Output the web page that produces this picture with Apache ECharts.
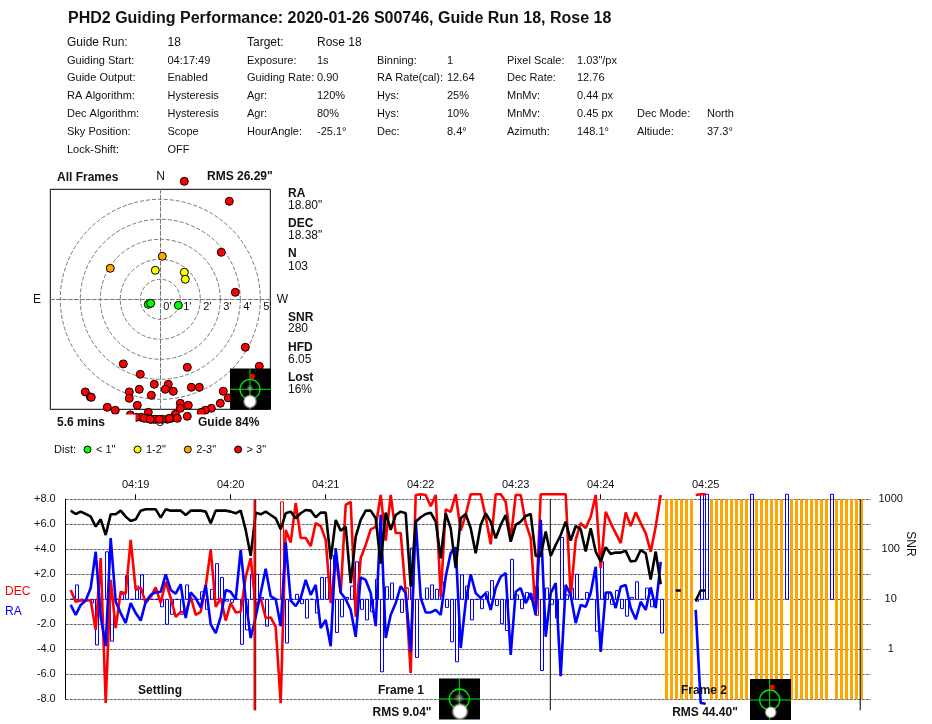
<!DOCTYPE html>
<html>
<head>
<meta charset="utf-8">
<title>PHD2 Guiding Performance</title>
<script src="https://cdn.jsdelivr.net/npm/echarts@6/dist/echarts.min.js"></script>
<style>
html,body{margin:0;padding:0;background:#fff}
#main{width:932px;height:724px}
</style>
</head>
<body>
<div id="main"></div>
<script>
var titleText = 'PHD2 Guiding Performance: 2020-01-26 S00746, Guide Run 18, Rose 18';

// header table, one list per column
var infoLabels1 = ['Guide Run:','Guiding Start:','Guide Output:','RA Algorithm:','Dec Algorithm:','Sky Position:','Lock-Shift:'];
var infoValues1 = ['18','04:17:49','Enabled','Hysteresis','Hysteresis','Scope','OFF'];
var infoLabels2 = ['Target:','Exposure:','Guiding Rate:','Agr:','Agr:','HourAngle:',''];
var infoValues2 = ['Rose 18','1s','0.90','120%','80%','-25.1°',''];
var infoLabels3 = ['','Binning:','RA Rate(cal):','Hys:','Hys:','Dec:',''];
var infoValues3 = ['','1','12.64','25%','10%','8.4°',''];
var infoLabels4 = ['','Pixel Scale:','Dec Rate:','MnMv:','MnMv:','Azimuth:',''];
var infoValues4 = ['','1.03"/px','12.76','0.44 px','0.45 px','148.1°',''];
var infoLabels5 = ['','','','','Dec Mode:','Altiude:',''];
var infoValues5 = ['','','','','North','37.3°',''];

// target plot, offsets in arc minutes [east-west, north-south]
var greenPoints = [[-0.6,-0.25],[-0.48,-0.2],[0.9,-0.3]];
var yellowPoints = [[-0.25,1.45],[1.2,1.35],[1.25,1.0]];
var orangePoints = [[0.1,2.15],[-2.5,1.55]];
var redPoints = [[1.2,5.9],[3.45,4.9],[3.05,2.35],[3.75,0.35],[4.25,-2.4],[4.95,-3.35],[-1.85,-3.23],[-1.0,-3.75],
  [1.35,-3.4],[-0.3,-4.25],[0.4,-4.25],[0.25,-4.5],[0.65,-4.6],[1.55,-4.4],[1.95,-4.4],[-1.05,-4.5],[-1.55,-4.63],
  [-3.75,-4.63],[-3.5,-4.88],[-3.45,-4.9],[-1.55,-4.95],[-0.45,-4.8],[3.15,-4.6],[3.4,-4.93],[3.0,-5.2],[2.55,-5.45],
  [2.25,-5.55],[2.05,-5.65],[1.0,-5.2],[1.0,-5.45],[1.4,-5.3],[-1.15,-5.3],[-2.65,-5.4],[-2.25,-5.55],[-0.6,-5.65],
  [-1.5,-5.78],[1.35,-5.85],[0.75,-5.75],[0.55,-5.95],[0.85,-5.95],[0.35,-6.0],[0.1,-6.0],[-0.2,-6.0],[-0.45,-6.0],
  [-0.65,-5.95],[-0.95,-5.9],[-1.2,-5.9],[-0.8,-5.95],[-0.3,-6.0],[-0.05,-6.0],[0.45,-5.95],[-0.5,-6.0]];
var ringMax = 5;

// stats beside the target plot
var statNames = ['RA','DEC','N','SNR','HFD','Lost'];
var statValues = ['18.80"','18.38"','103','280','6.05','16%'];

// time series: one entry per guide frame, index is the frame number
var decErr = [null,0.75,-0.2,-0.1,-0.1,-0.1,-2.45,3.3,-8.3,1.55,-2.3,0.6,0.45,4.75,0.75,0.95,-0.3,0.2,0.95,-0.3,1.4,0.1,-1.4,-1,-1.1,0.2,-1.25,-1,1,4,-0.6,0.1,-1.7,-0.3,-1.05,-1,1.8,3.3,
  -0.6,0.1,-1.5,-1.45,-2.2,-8.3,5.55,4.55,7.7,4.9,4.9,4.25,6.1,5.85,4.75,-0.3,3.4,0.5,7.55,7.8,-1.4,3.3,4.35,5.6,5.8,8.35,4.7,8.35,5.3,5.3,0.5,-5.9,8.35,8.4,8.35,7.45,8.35,0.2,7.2,7,8.4,5.5,6.75,8.4,8.4,8.4,6.6,4.4,8.4,8.4,7.8,4.75,8.35,8.35,6.1,4.9,-1.25,8.4,8.4,8.4,8.4,8.4,8.4,0.2,4.75,6.1,5.7,6.6,8.35,2.5,7,6.1,5.3,4.5,6.95,5.85,6.95,6.1,5.3,3.8,5.8,8.35,
  null,null,null,null,null,null,8.35,8.4,8.4];
var raErr = [null,-0.45,-1.25,-0.45,-0.1,0.9,3.8,-1.4,-3.75,4.9,-0.2,-1.1,-1.9,-0.3,-1.1,-1.7,-0.2,0.35,0.55,0.6,2,0.75,0.45,1.2,-1.5,0.55,0.1,-0.65,1.15,-2,-2.7,-1.4,0.75,0.6,0,3.95,-0.05,-3.1,
  -1.4,0.5,2.45,0.25,0,-2.15,4.55,-0.1,-0.55,0.1,1.55,0.35,1.15,-2.3,-1.65,-3.75,4.1,0.55,0,-0.85,-3,1.75,1.55,0.5,-2.15,6.75,-3.1,-1.25,-0.3,1.05,0.5,-4.2,6.35,0.1,-1.05,-1.05,-0.85,-1.25,1.8,3.7,4.15,-3.9,-0.2,2,0.5,0.1,0.5,-0.85,0.9,1.8,2.1,-4.45,0.6,0.9,-0.3,0.5,-1.25,6.35,-3,0.5,1.3,-6.15,1.15,0.35,-1.9,-0.45,-0.6,0.5,2.6,-4.2,0.55,0.55,-0.7,1,1.15,-0.7,-1.6,-0.2,-0.85,0.95,-0.7,3,
  null,null,null,null,null,null,-0.85,-8.3,-8.35];
var snr = [null,593,509,567,509,450,284,398,193,501,501,593,450,369,398,593,631,631,631,430,631,593,593,593,486,593,593,593,567,331,593,593,593,567,525,593,244,74,
  541,501,567,486,417,251,525,567,417,525,612,593,437,541,541,63,386,236,284,21,179,386,593,593,417,52,541,244,486,567,525,18,357,437,509,541,357,66,525,263,42,417,509,263,83,307,525,357,166,307,486,142,307,357,464,509,74,74,226,74,122,193,357,149,293,251,90,263,90,57,110,81,86,86,93,57,59,97,83,25,90,20,
  null,null,15,15,null,null,9.4,15,15];
// correction pulses, drawn as hollow bars
var raPulse = [null,0,1.15,0,0,-0.3,-3.65,0,3.8,-3.35,0,0.4,1.9,0,1.05,1.95,0,0,0,-0.6,-2,-1.2,0,-1.2,1.15,0,0,0.6,-0.8,0.8,2.85,1.75,-0.15,-0.25,0,-3.6,-2.45,2,
  2,0.15,-2.15,0,0,2,-3.5,0,0.4,-0.35,-1.5,0,-1.1,1.75,1.75,3.5,-2.65,-1.4,0.15,1.05,3,-0.8,-1.65,-1,1.6,-5.8,1,1.3,0,-1.05,0.9,4.1,-4.65,0,0.9,1.15,0.8,1.4,-0.65,-3.4,-5,1.95,1.05,-1.65,0,-0.75,0.6,1.5,-0.5,-1.95,-2.5,3.2,0.35,-0.75,0.55,0.4,1,-5.7,0.9,-0.4,-1.5,4.95,0.35,0.9,2,0,0.55,0,-2.55,3,0.55,-0.4,0.7,-0.75,-1.35,0.15,1.4,0,0.9,-0.6,0,-2.7,
  null,null,null,null,null,null,-0.15,8.4,8.4,null,null,null,null,null,null,null,null,8.4,null,null,null,null,null,null,8.4,null,null,null,null,null,null,null,null,8.4];
var decPulseFrames = [43,68,94];
var decPulseValues = [7.8,0.9,-1.3];
var lostFrames = [120,121,122,123,124,125,129,130,131,132,133,134,135,136,138,139,140,141,142,143,145,146,147,148,149,150,151,152,154,155,156,157,158,159];
var timeTicks = [14,33,52,71,90,107,128];
var timeLabels = ['04:19','04:20','04:21','04:22','04:23','04:24','04:25'];
var frameBreaks = [38,96.92,158.9];
var settleBreak = [37.75];
var errorTicks = [8,6,4,2,0,-2,-4,-6,-8];
var snrLabels = [1000,100,10,1];

var chart = echarts.init(document.getElementById('main'));
var FONT = '"Liberation Sans", Arial, sans-serif';
var INK = '#111';

function pairs(list) {
    var out = [];
    for (var i = 0; i < list.length; i++) {
        out.push([i, list[i]]);
    }
    return out;
}

function txt(text, x, y, size, bold, extra) {
    var style = {
        text: text, x: x, y: y + 1, fill: INK, verticalAlign: 'middle',
        font: (bold ? 'bold ' : '') + size + 'px ' + FONT
    };
    var z = 60;
    for (var k in (extra || {})) {
        if (k === 'z') z = extra[k];
        else style[k] = extra[k];
    }
    return { type: 'text', z: z, style: style };
}

// little guide star picture with the lock circle over it
function thumb(x, y, cx, cy, faint, blobX, blobY, blobR, dot) {
    var green = '#00e800';
    var parts = [
        { type: 'rect', z: 70, shape: { x: x, y: y, width: 41, height: 41 }, style: { fill: '#000' } },
        { type: 'circle', z: 71, shape: { cx: cx, cy: cy, r: 10 }, style: { fill: 'none', stroke: green, lineWidth: 1.3 } },
        { type: 'line', z: 71, shape: { x1: x, y1: cy, x2: x + 41, y2: cy }, style: { stroke: green, lineWidth: 1 } },
        { type: 'line', z: 71, shape: { x1: cx, y1: y, x2: cx, y2: y + 41 }, style: { stroke: green, lineWidth: 1 } }
    ];
    if (faint) {
        parts.push({ type: 'circle', z: 72, shape: { cx: cx, cy: cy - 1, r: faint },
            style: { fill: { type: 'radial', x: 0.5, y: 0.5, r: 0.5,
                colorStops: [{ offset: 0, color: '#aaa' }, { offset: 1, color: 'rgba(120,120,120,0)' }] } } });
    }
    parts.push({ type: 'circle', z: 73, shape: { cx: blobX, cy: blobY, r: blobR },
        style: { fill: { type: 'radial', x: 0.5, y: 0.5, r: 0.5,
            colorStops: [{ offset: 0, color: '#fff' }, { offset: 0.65, color: '#fff' }, { offset: 1, color: 'rgba(200,200,200,0)' }] } } });
    if (dot) {
        parts.push({ type: 'circle', z: 74, shape: { cx: dot[0], cy: dot[1], r: 2.6 }, style: { fill: '#f00' } });
    }
    return parts;
}

var graphics = [];
graphics.push(txt(titleText, 68, 17.5, 16, true));

var infoColumns = [[infoLabels1, 67], [infoValues1, 167.5], [infoLabels2, 247], [infoValues2, 317],
    [infoLabels3, 377], [infoValues3, 447], [infoLabels4, 507], [infoValues4, 577], [infoLabels5, 637], [infoValues5, 707]];
var infoRowY = [42, 59.5, 77, 95, 113, 131, 149];
infoColumns.forEach(function (col) {
    col[0].forEach(function (s, row) {
        if (s) graphics.push(txt(s, col[1], infoRowY[row], row === 0 ? 12 : 11, false));
    });
});

// target plot captions
graphics.push(txt('All Frames', 57, 176.5, 12, true));
graphics.push(txt('N', 160.7, 176, 12, false, { align: 'center' }));
graphics.push(txt('RMS 26.29"', 207, 175.5, 12, true));
graphics.push(txt('E', 37, 298.5, 12, false, { align: 'center' }));
graphics.push(txt('W', 282.5, 298.5, 12, false, { align: 'center' }));
graphics.push(txt('S', 160, 421.5, 12, false, { align: 'center', z: 1 }));
// the captions under the box blank out whatever falls below it
graphics.push({ type: 'rect', z: 50, shape: { x: 50, y: 414.5, width: 85.5, height: 20 }, style: { fill: '#fff' } });
graphics.push({ type: 'rect', z: 50, shape: { x: 196, y: 414.5, width: 80, height: 20 }, style: { fill: '#fff' } });
graphics.push(txt('5.6 mins', 57, 421.5, 12, true));
graphics.push(txt('Guide 84%', 198, 421.5, 12, true));
graphics.push(txt('Dist:', 54, 449, 11, false));

var statNameY = [193, 223, 253, 317, 347, 377];
var statValueY = [205, 235, 266, 328, 359, 389];
statNames.forEach(function (s, i) {
    graphics.push(txt(s, 288, statNameY[i], 12, true));
    graphics.push(txt(statValues[i], 288, statValueY[i], 12, false));
});

// time series captions
graphics.push(txt('DEC', 5, 591, 12, false, { fill: '#f00' }));
graphics.push(txt('RA', 5, 611, 12, false, { fill: '#00f' }));
graphics.push(txt('Settling', 160, 689.5, 12, true, { align: 'center' }));
graphics.push(txt('Frame 1', 401, 689.5, 12, true, { align: 'center' }));
graphics.push(txt('Frame 2', 704, 689.5, 12, true, { align: 'center' }));
graphics.push(txt('RMS 9.04"', 402, 711.5, 12, true, { align: 'center' }));
graphics.push(txt('RMS 44.40"', 705, 711.5, 12, true, { align: 'center' }));
graphics.push({ type: 'text', z: 60, x: 910, y: 544, rotation: -Math.PI / 2,
    style: { text: 'SNR', fill: INK, align: 'center', verticalAlign: 'middle', font: '12px ' + FONT } });

graphics = graphics
    .concat(thumb(230, 368.5, 250, 389.3, 4, 250, 401.5, 7.5, [252.3, 376.3]))
    .concat(thumb(439, 678.5, 459.3, 699, 5.5, 460, 711.5, 9, null))
    .concat(thumb(750, 679, 769.7, 700, 0, 770.7, 712.3, 6.5, [772.3, 687.3]));

function hollowBar(color) {
    return function (params, api) {
        var top = api.coord([api.value(0), api.value(1)]);
        var base = api.coord([api.value(0), 0]);
        return {
            type: 'rect',
            shape: { x: Math.floor(top[0]) + 0.5, y: Math.min(top[1], base[1]), width: 3, height: Math.abs(top[1] - base[1]) },
            style: { fill: 'none', stroke: color, lineWidth: 1 }
        };
    };
}

function lostBar(params, api) {
    var top = api.coord([api.value(0), 8]);
    var bottom = api.coord([api.value(0), -8]);
    return {
        type: 'rect',
        shape: { x: Math.round(top[0] - 1.2), y: top[1], width: 3, height: bottom[1] - top[1] },
        style: { fill: '#ffa500' }
    };
}

function breakLine(color, width) {
    return function (params, api) {
        var top = api.coord([api.value(0), 8]);
        return {
            type: 'line',
            shape: { x1: top[0], y1: top[1], x2: top[0], y2: top[1] + 211 },
            style: { stroke: color, lineWidth: width }
        };
    };
}

function errorLine(name, data, color, width, axis, z) {
    return {
        type: 'line', name: name, data: data, xAxisIndex: 1, yAxisIndex: axis, z: z,
        showSymbol: false, symbol: 'none', clip: false, animation: false,
        lineStyle: { color: color, width: width }, connectNulls: false
    };
}

function targetSeries(name, data, color) {
    return {
        type: 'scatter', name: name, data: data, xAxisIndex: 0, yAxisIndex: 0, z: 4, clip: false,
        symbolSize: 8, itemStyle: { color: color, borderColor: '#000', borderWidth: 1, opacity: 1 }
    };
}

var gridLine = { show: true, lineStyle: { color: '#666', type: [3, 1], width: 1 } };

chart.setOption({
    animation: false,
    textStyle: { fontFamily: FONT },
    grid: [
        { left: 50.3, top: 189.3, width: 220, height: 220, show: true, borderColor: '#000', borderWidth: 1, backgroundColor: '#fff', z: 0 },
        { left: 65.7, top: 499.3, width: 805, height: 200, show: false }
    ],
    polar: { center: [160.3, 299.3], radius: 100 },
    angleAxis: { show: false, min: 0, max: 360, startAngle: 0 },
    radiusAxis: {
        min: 0, max: ringMax, interval: 1, z: 3,
        axisLine: { show: false }, axisTick: { show: false },
        splitLine: { show: true, lineStyle: { color: '#777', type: [4, 2], width: 1 } },
        axisLabel: { color: INK, fontSize: 11, margin: -2, padding: [0, 0, 0, 3], align: 'left', verticalAlign: 'top', formatter: "{value}'" }
    },
    xAxis: [
        {
            gridIndex: 0, type: 'value', min: -5.5, max: 5.5, z: 3,
            axisLine: { show: true, onZero: true, lineStyle: { color: '#777', type: [4, 2] } },
            axisTick: { show: false }, axisLabel: { show: false }, splitLine: { show: false }
        },
        {
            gridIndex: 1, type: 'value', position: 'top', min: 0, max: 161,
            axisLine: { show: false, onZero: false },
            axisTick: { show: true, length: 5, customValues: timeTicks, lineStyle: { color: '#000' } },
            axisLabel: {
                show: true, color: INK, fontSize: 11, margin: 9, customValues: timeTicks,
                formatter: function (v) { return timeLabels[timeTicks.indexOf(v)] || ''; }
            },
            splitLine: { show: false }
        }
    ],
    yAxis: [
        {
            gridIndex: 0, type: 'value', min: -5.5, max: 5.5, z: 3,
            axisLine: { show: true, onZero: true, lineStyle: { color: '#777', type: [4, 2] } },
            axisTick: { show: false }, axisLabel: { show: false }, splitLine: { show: false }
        },
        {
            gridIndex: 1, type: 'value', min: -8, max: 8, interval: 2,
            axisLine: { show: true, onZero: false, lineStyle: { color: '#000' } },
            axisTick: { show: false },
            axisLabel: {
                color: INK, fontSize: 11, margin: 10,
                formatter: function (v) {
                    return errorTicks.indexOf(v) < 0 ? '' : (v > 0 ? '+' : '') + v.toFixed(1);
                }
            },
            splitLine: gridLine
        },
        {
            gridIndex: 1, type: 'log', logBase: 10, min: 0.1, max: 1000, position: 'right',
            axisLine: { show: false }, axisTick: { show: false }, splitLine: { show: false },
            axisLabel: {
                color: INK, fontSize: 11, margin: 20, align: 'center',
                formatter: function (v) { return snrLabels.indexOf(v) < 0 ? '' : String(v); }
            }
        }
    ],
    legend: {
        left: 83.5, top: 444, itemWidth: 7, itemHeight: 7, itemGap: 18, padding: 0, selectedMode: false, icon: 'circle',
        data: ['< 1"', '1-2"', '2-3"', '> 3"'],
        textStyle: { color: INK, fontSize: 11 },
        itemStyle: { borderColor: '#000', borderWidth: 1 }
    },
    graphic: { elements: graphics },
    series: [
        targetSeries('< 1"', greenPoints, '#00ff00'),
        targetSeries('1-2"', yellowPoints, '#ffff00'),
        targetSeries('2-3"', orangePoints, '#ffa500'),
        targetSeries('> 3"', redPoints, '#ff0000'),
        {
            type: 'custom', name: 'Lost', xAxisIndex: 1, yAxisIndex: 1, z: 1, renderItem: lostBar,
            data: lostFrames.map(function (f) { return [f, 8]; })
        },
        {
            type: 'custom', name: 'RA pulse', xAxisIndex: 1, yAxisIndex: 1, z: 2, renderItem: hollowBar('#0000ff'),
            data: pairs(raPulse).filter(function (p) { return p[1] !== null; })
        },
        {
            type: 'custom', name: 'DEC pulse', xAxisIndex: 1, yAxisIndex: 1, z: 2, renderItem: hollowBar('#ff0000'),
            data: decPulseFrames.map(function (f, i) { return [f, decPulseValues[i]]; })
        },
        errorLine('DEC', pairs(decErr), '#ff0000', 2.6, 1, 3),
        errorLine('RA', pairs(raErr), '#0000ff', 2.6, 1, 4),
        errorLine('SNR', pairs(snr), '#000000', 2.6, 2, 5),
        {
            type: 'custom', name: 'Frame', xAxisIndex: 1, yAxisIndex: 1, z: 6, renderItem: breakLine('#000', 1),
            data: frameBreaks.map(function (f) { return [f, 8]; })
        },
        {
            type: 'custom', name: 'Settled', xAxisIndex: 1, yAxisIndex: 1, z: 6, renderItem: breakLine('#f00', 2),
            data: settleBreak.map(function (f) { return [f, 8]; })
        }
    ]
});
</script>
</body>
</html>
